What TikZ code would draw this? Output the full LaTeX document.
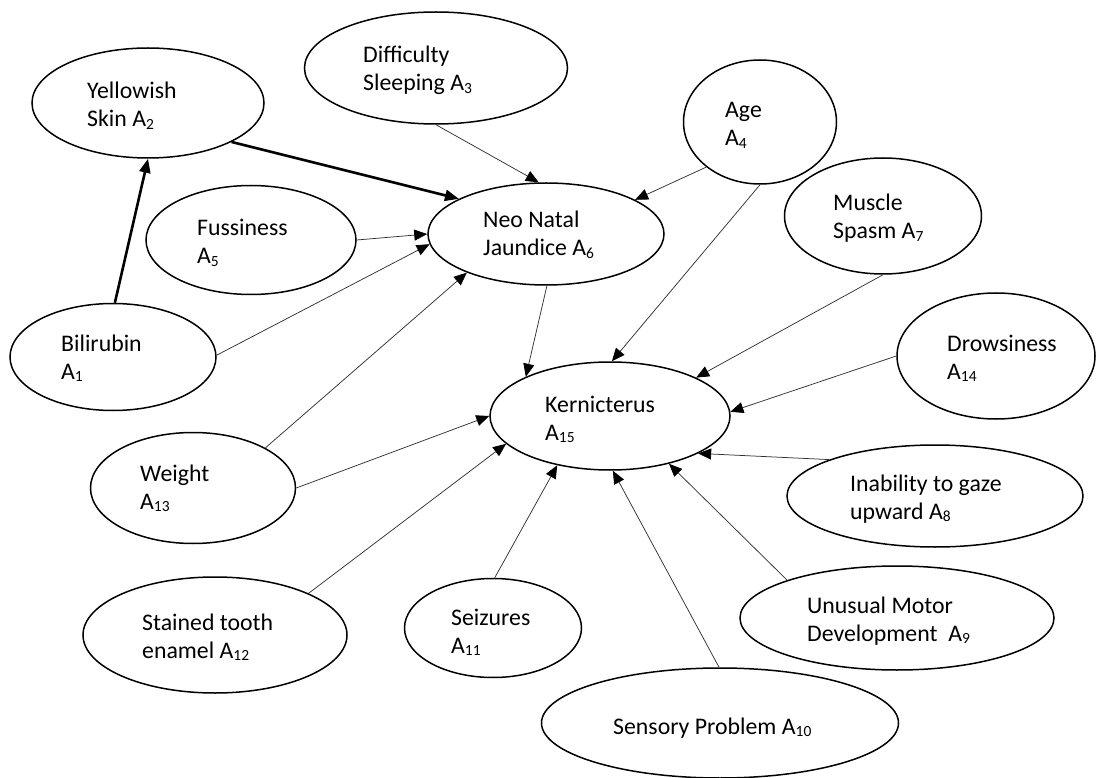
\documentclass[tikz,border=0pt]{standalone}
\usepackage{fontspec}
\setmainfont{Carlito}
\usetikzlibrary{shapes.geometric,arrows.meta}
\newcommand{\sbs}[1]{\raisebox{-0.12em}{\fontsize{15.5}{15.5}\selectfont #1}}
\tikzset{
  el/.style 2 args={ellipse,draw=black,line width=1.5pt,inner sep=0pt,minimum width=#1pt,minimum height=#2pt},
  lbl/.style={anchor=base west,align=left,inner sep=0pt,font=\fontsize{23.8}{28}\selectfont},
  thin/.style={draw=black!80,line width=0.75pt,-{Triangle[length=13pt,width=11pt,color=black]}},
  heavy/.style={draw=black,line width=2.6pt,-{Triangle[length=14pt,width=11pt]}}
}
\begin{document}
\begin{tikzpicture}[x=1pt,y=-1pt]
\useasboundingbox (0,0) rectangle (1096,778);
% ellipses
\node[el={206}{107}] (a1) at (113,357) {};
\node[el={232}{110}] (a2) at (148,103) {};
\node[el={263}{112}] (a3) at (436,68) {};
\node[el={153}{124}] (a4) at (760,122) {};
\node[el={210}{109}] (a5) at (251,240) {};
\node[el={236}{102}] (a6) at (546,234) {};
\node[el={197}{116}] (a7) at (883,216) {};
\node[el={296}{102}] (a8) at (935,496) {};
\node[el={314}{104}] (a9) at (897,618) {};
\node[el={357}{110}] (a10) at (720,723) {};
\node[el={177}{99}] (a11) at (493,628) {};
\node[el={264}{116}] (a12) at (215,635) {};
\node[el={205}{111}] (a13) at (193,488) {};
\node[el={198}{126}] (a14) at (996,356) {};
\node[el={240}{108}] (a15) at (610,416) {};
% labels (base = baseline of last line)
\node[lbl] (t1) at (61,379) {Bilirubin\\A\sbs{1}};
\node[lbl] (t2) at (87,127) {Yellowish\\Skin A\sbs{2}};
\node[lbl] (t3) at (363,91) {Difficulty\\Sleeping A\sbs{3}};
\node[lbl] (t4) at (725,146) {Age\\A\sbs{4}};
\node[lbl] (t5) at (197,264) {Fussiness\\A\sbs{5}};
\node[lbl] (t6) at (483,256) {Neo Natal\\Jaundice A\sbs{6}};
\node[lbl] (t7) at (833,239) {Muscle\\Spasm A\sbs{7}};
\node[lbl] (t8) at (850,519) {Inability to gaze\\upward A\sbs{8}};
\node[lbl] (t9) at (807,641) {Unusual Motor\\Development\hspace{0.45em}A\sbs{9}};
\node[lbl] (t10) at (613,734) {Sensory Problem A\sbs{10}};
\node[lbl] (t11) at (451,653) {Seizures\\A\sbs{11}};
\node[lbl] (t12) at (142,658) {Stained tooth\\enamel A\sbs{12}};
\node[lbl] (t13) at (140,509) {Weight\\A\sbs{13}};
\node[lbl] (t14) at (947,379) {Drowsiness\\A\sbs{14}};
\node[lbl] (t15) at (545,440) {Kernicterus\\A\sbs{15}};
% connectors
\draw[heavy] (a1.88) -- (a2.-90);
\draw[heavy] (a2.-25) -- (a6.158);
\draw[thin] (a3.-90) -- (a6.98);
\draw[thin] (a4.220) -- (a6.21);
\draw[thin] (a5.0) -- (a6.180);
\draw[thin] (a1.1) -- (a6.185);
\draw[thin] (a13.29) -- (a6.206);
\draw[thin] (a6.-89) -- (a15.155);
\draw[thin] (a4.-90) -- (a15.88);
\draw[thin] (a7.-90) -- (a15.24);
\draw[thin] (a14.180) -- (a15.2);
\draw[thin] (a8.161) -- (a15.-23);
\draw[thin] (a9.161) -- (a15.-39);
\draw[thin] (a10.91) -- (a15.-87);
\draw[thin] (a11.88) -- (a15.223);
\draw[thin] (a12.24) -- (a15.195);
\draw[thin] (a13.0) -- (a15.180);
\end{tikzpicture}
\end{document}
